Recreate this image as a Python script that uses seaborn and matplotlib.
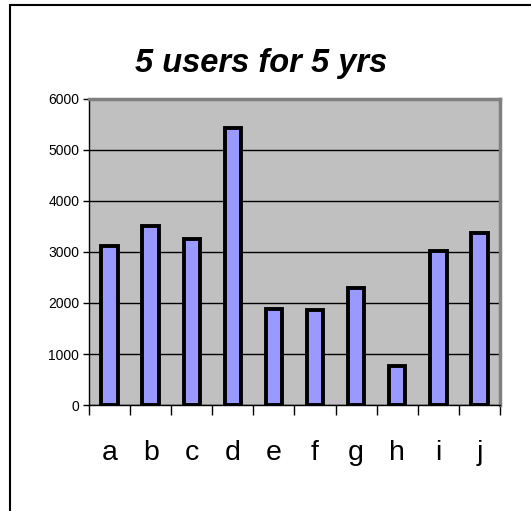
import matplotlib
matplotlib.use("Agg")
import matplotlib.pyplot as plt
import seaborn as sns
import pandas as pd
from matplotlib.patches import Rectangle

users = ["a", "b", "c", "d", "e", "f", "g", "h", "i", "j"]
totals = [3120, 3500, 3250, 5430, 1890, 1870, 2290, 770, 3020, 3370]
y_ticks = [0, 1000, 2000, 3000, 4000, 5000, 6000]

df = pd.DataFrame({"user": users, "total": totals})

sns.set_style("white")
plt.rcParams["font.family"] = ["Liberation Sans", "DejaVu Sans"]
plt.rcParams["text.color"] = "black"
plt.rcParams["xtick.color"] = "black"
plt.rcParams["ytick.color"] = "black"

fig = plt.figure(figsize=(5.31, 5.11), dpi=100)
ax = fig.add_axes([0.1676, 0.2074, 0.774, 0.599])

sns.barplot(data=df, x="user", y="total", color="#9999FF", saturation=1,
            edgecolor="black", linewidth=2.8, width=0.4, ax=ax, zorder=3)

ax.set_facecolor("#C0C0C0")
ax.set_xlim(-0.5, len(users) - 0.5)
ax.set_ylim(0, 6000)
ax.set_yticks(y_ticks)
ax.set_yticklabels([str(v) for v in y_ticks], fontsize=10)
ax.yaxis.grid(True, color="black", linewidth=1)
ax.set_axisbelow(True)

ax.set_xticks(range(len(users)))
ax.set_xticklabels(users, fontsize=20.5)
ax.tick_params(axis="x", which="major", length=0, pad=25)
ax.set_xticks([i - 0.5 for i in range(len(users) + 1)], minor=True)
ax.tick_params(axis="x", which="minor", direction="out", length=7, width=1,
               color="black", bottom=True)
ax.tick_params(axis="y", direction="out", length=4, width=1, color="black", pad=3, left=True)
ax.set_xlabel("")
ax.set_ylabel("")

for side in ["left", "bottom"]:
    ax.spines[side].set_color("black")
    ax.spines[side].set_linewidth(1)
for side in ["top", "right"]:
    ax.spines[side].set_visible(True)
    ax.spines[side].set_color("#808080")
    ax.spines[side].set_linewidth(2.5)

fig.text(0.492, 1 - 63 / 511, "5 users for 5 yrs", ha="center", va="center",
         fontsize=23.5, fontweight="bold", fontstyle="italic", color="black")

fig.patches.append(Rectangle((10 / 531, -0.1), 1.2, 1.1 - 5 / 511, transform=fig.transFigure,
                             fill=False, edgecolor="black", linewidth=1.5))

fig.savefig("out.png", dpi=100)
